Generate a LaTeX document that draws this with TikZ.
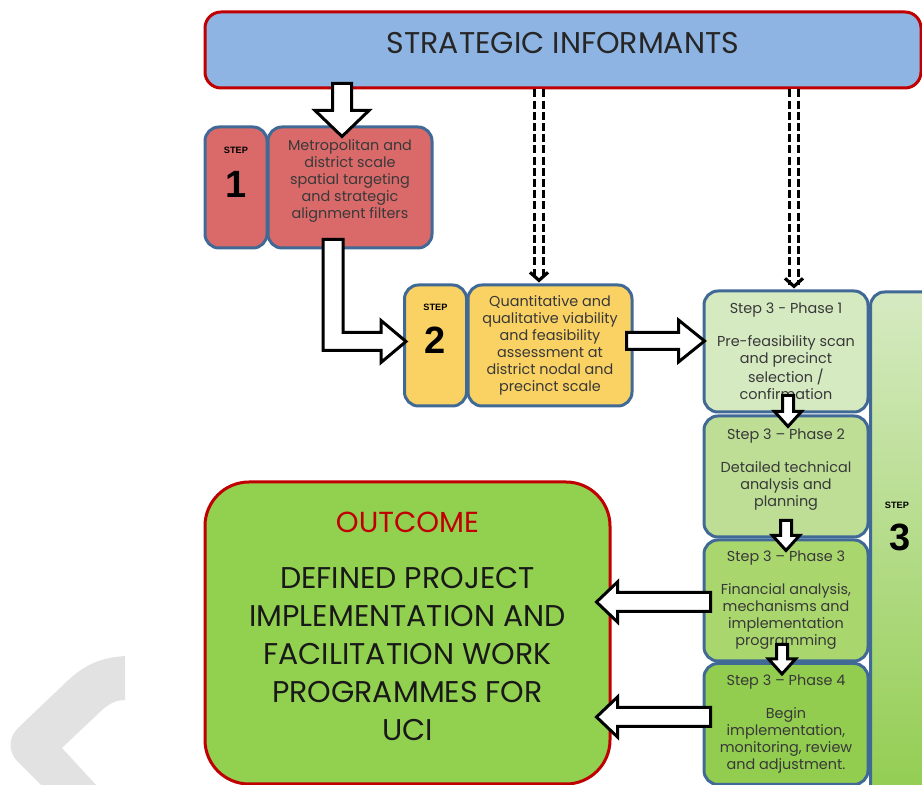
\documentclass[tikz,border=0pt]{standalone}
\usepackage{fontspec}
\setmainfont{Poppins}
\newfontfamily\arialfont{Liberation Sans}
\usetikzlibrary{calc,positioning,arrows.meta}

\definecolor{infblue}{RGB}{142,180,227}
\definecolor{infred}{RGB}{192,0,0}
\definecolor{stepline}{RGB}{65,105,150}
\definecolor{redfill}{RGB}{218,106,106}
\definecolor{yellowfill}{RGB}{250,210,100}
\definecolor{phaseA}{RGB}{214,234,194}
\definecolor{phaseB}{RGB}{190,222,150}
\definecolor{phaseC}{RGB}{170,214,110}
\definecolor{phaseD}{RGB}{146,205,80}
\definecolor{outgreen}{RGB}{146,208,80}
\definecolor{wmark}{RGB}{226,226,226}

% hollow block arrow: from, to, shaft half width, head half width, head length
\newcommand\blockarrow[5]{%
  \coordinate (ba) at ($(#2)!#5!(#1)$);
  \draw[hollow] ($(#1)!#3!90:(#2)$) -- ($(ba)!#3!-90:(#1)$) -- ($(ba)!#4!-90:(#1)$)
    -- (#2) -- ($(ba)!#4!90:(#1)$) -- ($(ba)!#3!90:(#1)$) -- ($(#1)!#3!-90:(#2)$) -- cycle;}

\begin{document}
\begin{tikzpicture}[x=0.5pt,y=-0.5pt,
  box/.style={draw=stepline,line width=1.5pt,rounded corners=7pt,align=center,inner sep=2pt,
    font=\fontsize{7.2}{8.5}\selectfont,text=black!78},
  tab/.style={box,minimum width=31pt,minimum height=60.5pt},
  card/.style={box,minimum width=82pt,minimum height=60.5pt},
  steplbl/.style={font=\arialfont\bfseries\fontsize{4.6}{5}\selectfont,inner sep=0pt},
  stepnum/.style={font=\arialfont\bfseries\fontsize{19}{20}\selectfont,inner sep=0pt},
  hollow/.style={draw=black,line width=1.5pt,fill=white,line join=miter},
  dashlink/.style={draw=black,line width=1.6pt,double=white,double distance=3.2pt,
    dash pattern=on 4pt off 1.6pt}]
  \useasboundingbox (0,0) rectangle (922,785);
  \clip (0,0) rectangle (922,785);

  % watermark
  \fill[wmark] (125,656) .. controls (95,658) and (80,668) .. (60,688) -- (18,728)
    .. controls (8,738) and (8,752) .. (18,762) -- (42,786) -- (97,786) -- (62,748)
    -- (100,712) .. controls (108,704) and (116,700) .. (125,700) -- cycle;

  % boxes
  \node[box,draw=infred,fill=infblue,rounded corners=8pt,minimum width=358pt,minimum height=38pt,
    font=\fontsize{15}{17}\selectfont,text=black!85] (inf) at (563,50)
    {STRATEGIC INFORMANTS\\[-10pt]\mbox{}};

  \node[tab,fill=redfill] (s1tab) at (236,187.5) {};
  \node[card,fill=redfill] (s1) at (350,187.5)
    {Metropolitan and\\district scale\\spatial targeting\\and strategic\\alignment filters\\\mbox{}};
  \node[steplbl] (s1step) at ($(s1tab.north)+(0,25)$) {STEP};
  \node[stepnum] (s1num) at ($(s1tab.north)+(0,59)$) {1};

  \node[tab,fill=yellowfill] (s2tab) at (435.5,345.5) {};
  \node[card,fill=yellowfill] (s2) at (550,345.5)
    {Quantitative and\\qualitative viability\\and feasibility\\assessment at\\district nodal and\\precinct scale};
  \node[steplbl] (s2step) at ($(s2tab.north)+(0,24)$) {STEP};
  \node[stepnum] (s2num) at ($(s2tab.north)+(0,57)$) {2};

  \node[box,minimum width=44.5pt,minimum height=254pt,top color=phaseA,bottom color=phaseD]
    (s3) at (915,546) {};
  \node[steplbl] (s3step) at (897,505) {STEP};
  \node[stepnum] (s3num) at (900,537) {3};

  \node[card,fill=phaseA] (ph1) at (786,351.5)
    {Step 3 - Phase 1\\[8pt]Pre-feasibility scan\\and precinct\\selection /\\confirmation};
  \node[card,fill=phaseB] (ph2) at (786,476.5)
    {Step 3 -- Phase 2\\[8pt]Detailed technical\\analysis and\\planning\\\mbox{}};
  \node[card,fill=phaseC] (ph3) at (786,600.5)
    {Step 3 -- Phase 3\\[8pt]Financial analysis,\\mechanisms and\\implementation\\programming};
  \node[card,fill=phaseD] (ph4) at (786,724)
    {Step 3 -- Phase 4\\[8pt]Begin\\implementation,\\monitoring, review\\and adjustment.};

  \node[draw=infred,line width=1.5pt,fill=outgreen,rounded corners=22pt,minimum width=202.5pt,
    minimum height=151pt,align=center,font=\fontsize{15}{19}\selectfont,text=black!90] (out) at (407.5,633)
    {{\fontsize{14.5}{17}\selectfont\color{infred}OUTCOME}\\[9pt]
     DEFINED PROJECT\\IMPLEMENTATION AND\\FACILITATION WORK\\PROGRAMMES FOR\\UCI\\[-12pt]\mbox{}};

  % dashed links
  \draw[dashlink,-{Straight Barb[length=4pt,width=9pt]}] (inf.south -| 539,0) -- ($(s2.north)+(-11,-1)$);
  \draw[dashlink,-{Straight Barb[length=4pt,width=9pt]}] (inf.south -| 794,0) -- ($(ph1.north)+(8,-1)$);

  % hollow arrows
  \coordinate (a1) at ($(inf.south -| s1.north)+(-8,-6)$);
  \coordinate (a1t) at ($(s1.north)+(-8,11)$);
  \blockarrow{a1}{a1t}{4.75pt}{13.5pt}{13pt}

  \coordinate (lt) at ($(s1.south)+(-17,-10)$);
  \coordinate (ltip) at ($(s2tab.west)+(3,-4)$);
  \draw[hollow] ($(lt)+(-10,0)$) -- ($(lt)+(10,0)$) |- ($(ltip)+(-25,-9)$) -- ++(0,-12) -- (ltip)
    -- ($(ltip)+(-25,21)$) -- ++(0,-12) -| ($(lt)+(-10,0)$) -- cycle;

  \coordinate (a2) at ($(s2.east)+(-7,-4.5)$);
  \coordinate (a2t) at ($(a2 -| ph1.west)+(2,0)$);
  \blockarrow{a2}{a2t}{4.25pt}{10.5pt}{13pt}

  \foreach \from/\to/\dx in {ph1/ph2/2,ph2/ph3/0,ph3/ph4/-4}{
    \coordinate (pa) at ($(\from.south)+(\dx,-18)$);
    \coordinate (pt) at ($(\to.north)+(\dx,12)$);
    \blockarrow{pa}{pt}{2.75pt}{6.75pt}{7.5pt}
  }

  \coordinate (a3) at ($(ph3.west)+(8,1.5)$);
  \coordinate (a3t) at ($(a3 -| out.east)+(-15,0)$);
  \blockarrow{a3}{a3t}{4.75pt}{10pt}{10.5pt}
  \coordinate (a4) at ($(ph4.west)+(8,-7)$);
  \coordinate (a4t) at ($(a4 -| out.east)+(-15,0)$);
  \blockarrow{a4}{a4t}{4.75pt}{10pt}{10.5pt}
\end{tikzpicture}
\end{document}
